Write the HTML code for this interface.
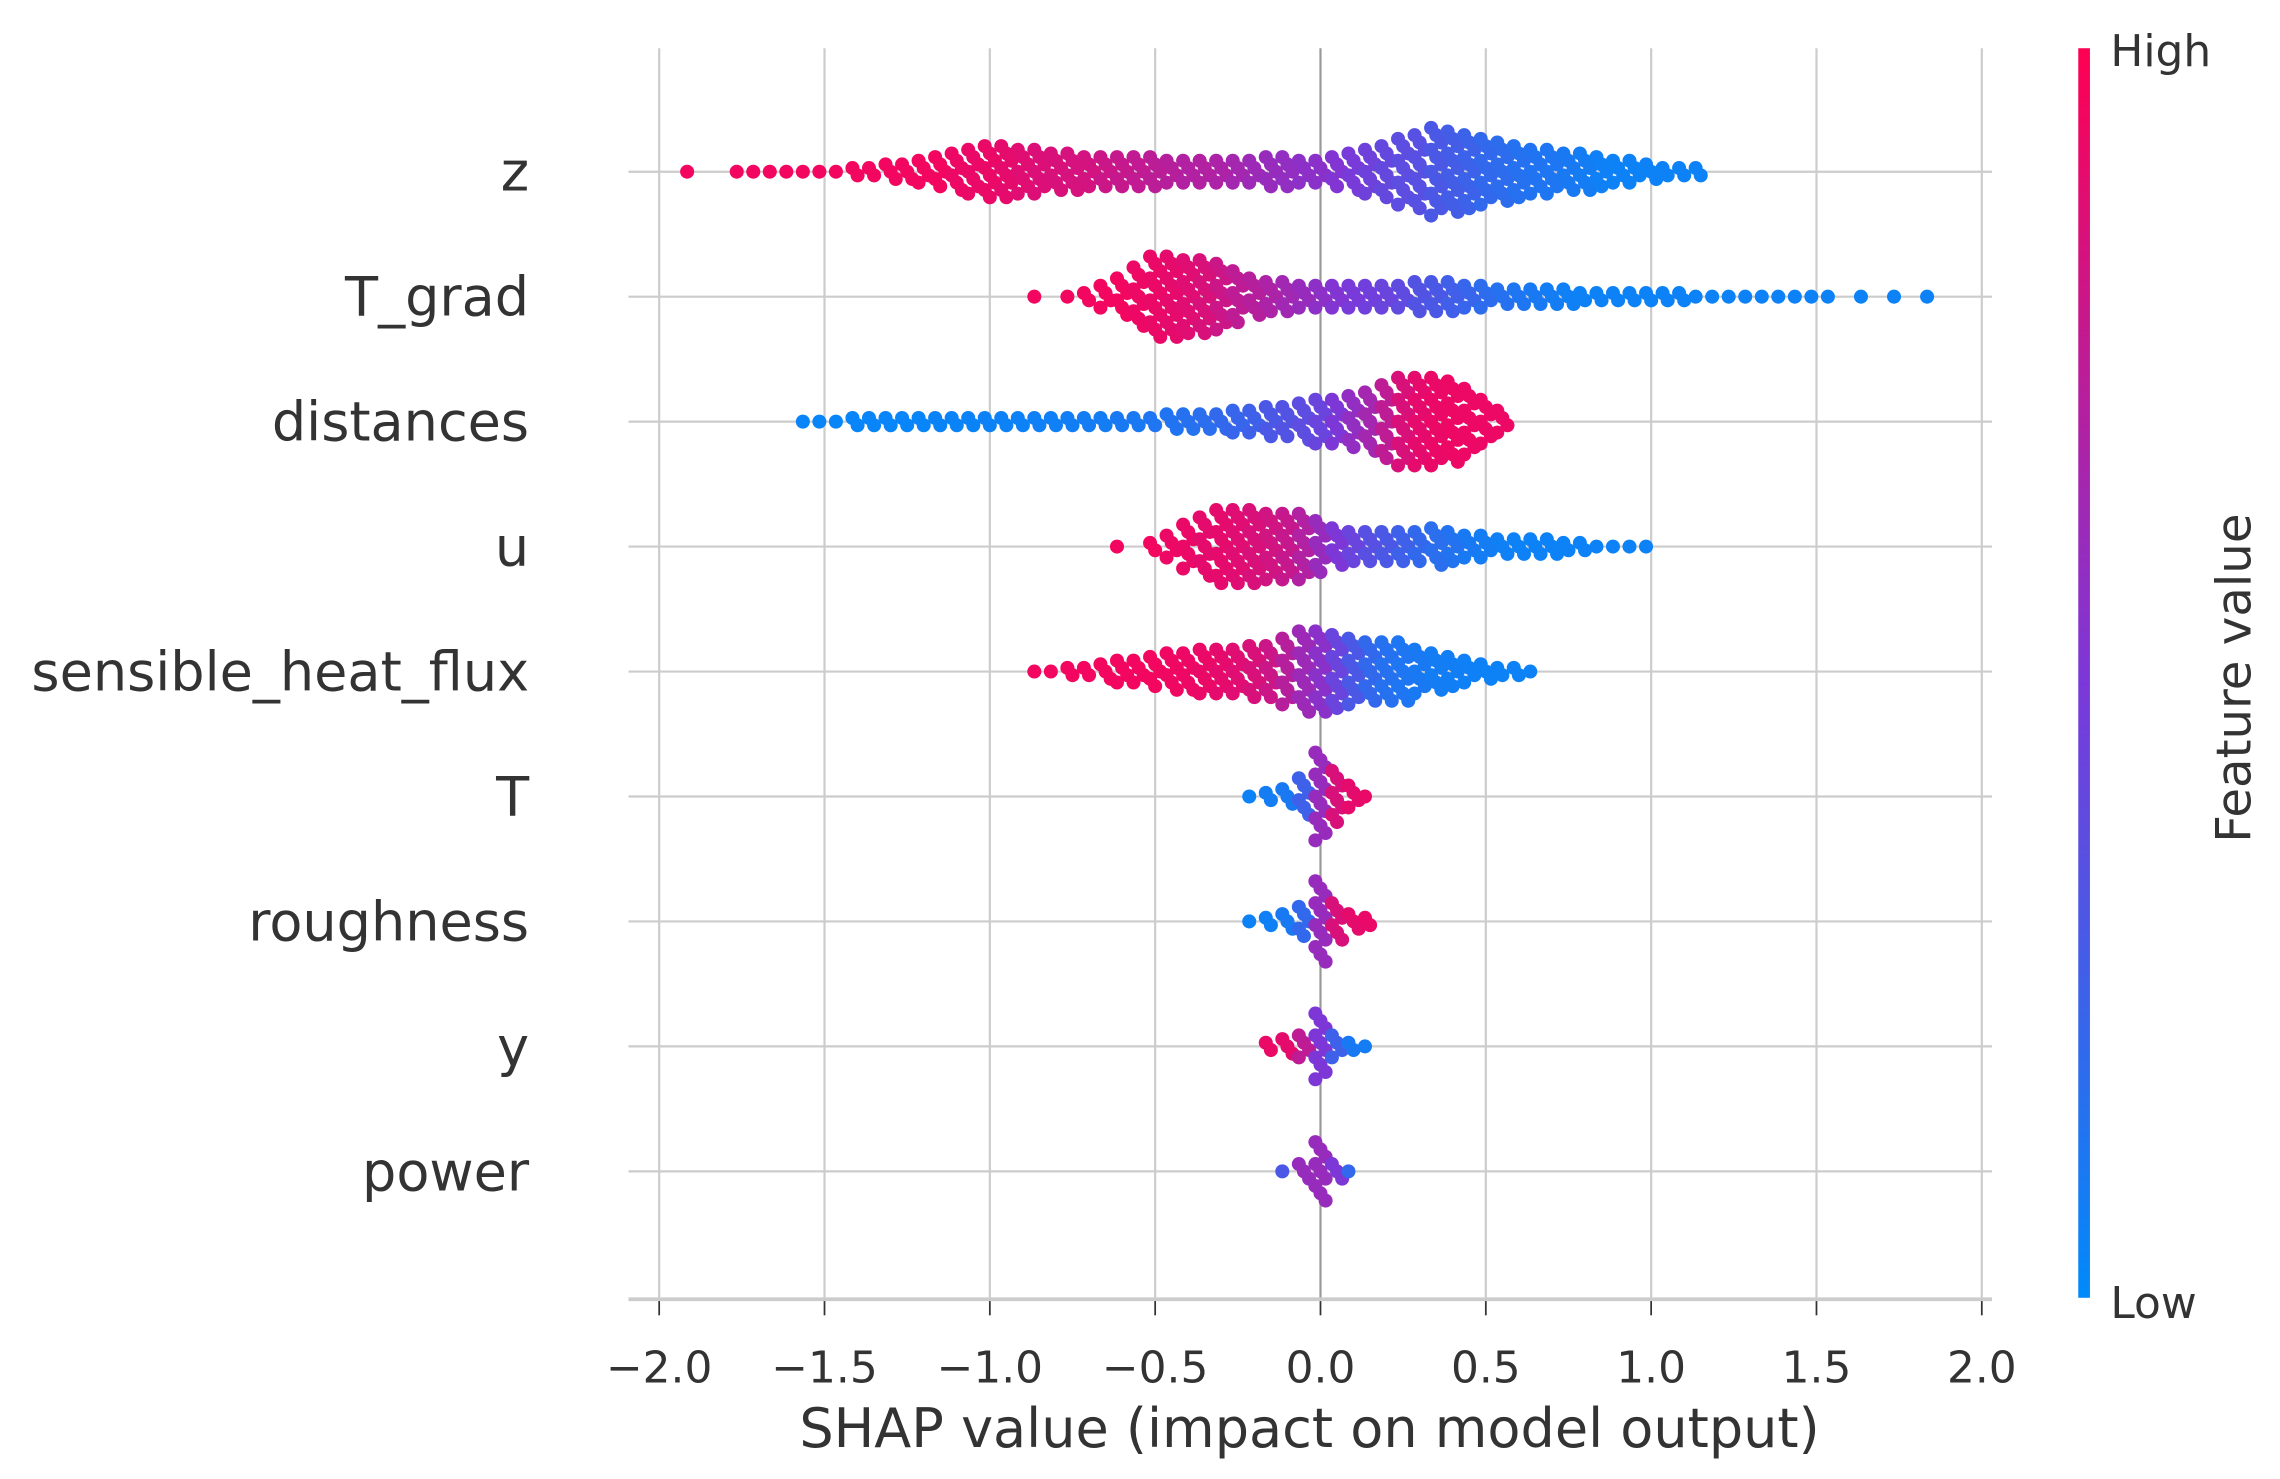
<!DOCTYPE html>
<html><head><meta charset="utf-8"><style>
html,body{margin:0;padding:0;background:#fff;}
svg{display:block;}
text{font-family:"DejaVu Sans","Liberation Sans",sans-serif;fill:#333;}
</style></head><body>
<svg id="chart" width="2280" height="1479" viewBox="0 0 1560 1012" xmlns="http://www.w3.org/2000/svg">
<defs><linearGradient id="cb" x1="0" y1="1" x2="0" y2="0">
<stop offset="0" stop-color="rgb(0,138,250)"/><stop offset="0.5" stop-color="rgb(125,55,215)"/><stop offset="1" stop-color="rgb(255,0,82)"/></linearGradient></defs>
<g id="grid"></g>
<g id="dots"></g>
<g id="axes"></g>
<rect x="1422" y="33" width="8" height="855" fill="url(#cb)"/>
<text x="1444" y="45" font-size="30">High</text>
<text x="1444" y="902" font-size="30">Low</text>
<text transform="translate(1540,464) rotate(-90)" text-anchor="middle" font-size="33">Feature value</text>
<text x="896" y="990" text-anchor="middle" font-size="37">SHAP value (impact on model output)</text>
</svg>
<script>
const features = ["z","T_grad","distances","u","sensible_heat_flux","T","roughness","y","power"];
const ticks = [-2.0,-1.5,-1.0,-0.5,0.0,0.5,1.0,1.5,2.0];
const tickLabels = ["\u22122.0","\u22121.5","\u22121.0","\u22120.5","0.0","0.5","1.0","1.5","2.0"];
const binWidth = 0.05;
const starts = [-1.90,-0.85,-1.55,-0.60,-0.85,-0.20,-0.20,-0.15,-0.10];
const countsZ = [1,0,0,1,1,1,1,1,1,1,2,2,3,3,4,5,6,7,8,8,7,7,6,6,5,5,5,5,5,4,4,4,4,4,4,5,5,4,4,5,6,7,8,10,11,13,12,11,10,9,8,7,7,6,6,5,4,4,3,2,2,2];
const colorsZ = [.95,.95,.95,.95,.95,.95,.95,.95,.95,.95,.95,.95,.95,.95,.95,.95,.93,.92,.92,.9,.88,.86,.85,.84,.83,.8,.78,.76,.74,.72,.7,.7,.68,.65,.62,.6,.58,.56,.55,.52,.48,.44,.4,.37,.35,.3,.27,.24,.2,.18,.15,.13,.12,.1,.08,.06,.05,.05,.05,.05,.05,.05];
const countsTgrad = [1,0,1,2,4,6,9,12,12,11,11,10,8,6,5,5,4,4,4,4,4,4,4,5,5,5,4,4,3,3,3,3,3,2,2,2,2,2,2,2,1,1,1,1,1,1,1,1,1,0,1,0,1,0,1];
const colorsTgrad = [.95,.95,.95,.95,.95,.95,.93,.92,.9,.88,.85,.8,.75,.72,.68,.64,.6,.56,.52,.48,.45,.42,.38,.33,.3,.26,.22,.18,.15,.12,.1,.08,.06,.05,.05,.05,.05,.05,.05,.05,.05,.05,.05,.05,.05,.05,.05,.05,.05,.05,.05,.05,.05,.05,.05];
const countsDist = [1,1,1,2,2,2,2,2,2,2,2,2,2,2,2,2,2,2,2,2,2,2,3,3,3,3,4,4,5,5,6,7,7,8,9,11,13,13,13,12,10,7,4];
const colorsDist = [.03,.03,.03,.03,.03,.03,.03,.03,.04,.04,.04,.05,.05,.05,.06,.06,.07,.08,.08,.1,.1,.12,.13,.15,.17,.2,.22,.25,.3,.33,.37,.42,.5,.58,.65,.75,.85,.9,.92,.93,.93,.93,.93];
const countsU = [1,0,2,4,7,9,11,11,11,10,10,10,8,6,5,5,5,5,5,6,5,4,4,3,3,3,3,2,2,1,1,1,1];
const colorsU = [.95,.95,.95,.93,.92,.9,.9,.88,.85,.82,.78,.7,.6,.5,.42,.35,.3,.25,.2,.17,.14,.1,.08,.06,.05,.05,.05,.05,.05,.05,.05,.05,.05];
const countsShf = [1,1,2,2,3,4,4,5,6,6,7,7,7,8,8,10,12,12,11,10,9,9,9,7,6,5,4,3,2,2,1];
const colorsShf = [.95,.95,.95,.95,.95,.95,.95,.95,.94,.93,.92,.9,.88,.85,.8,.72,.62,.55,.42,.3,.2,.15,.12,.1,.08,.07,.06,.05,.05,.05,.05];
const countsT = [1,2,3,6,13,8,4,1];
const colorsT = [.05,.08,.1,.25,.6,.85,.9,.92];
const countsRough = [1,2,3,5,12,6,3,2];
const colorsRough = [.05,.06,.1,.2,.6,.85,.9,.92];
const countsY = [2,3,4,10,4,2,1];
const colorsY = [.92,.9,.75,.5,.25,.1,.08];
const countsPower = [1,3,9,3,1];
const colorsPower = [.3,.6,.6,.5,.2];
const allCounts = [countsZ,countsTgrad,countsDist,countsU,countsShf,countsT,countsRough,countsY,countsPower];
const allColors = [colorsZ,colorsTgrad,colorsDist,colorsU,colorsShf,colorsT,colorsRough,colorsY,colorsPower];

const NS = "http://www.w3.org/2000/svg";
const X0 = 451, X1 = 1356;
function xScale(v){ return X0 + (v + 2) / 4 * (X1 - X0); }
function yScale(i){ return 117.5 + i * 85.5; }
function cmap(t){
  const a=[0,138,250], m=[125,55,215], b=[255,0,82];
  let c;
  if(t<0.5){ const k=t/0.5; c=a.map((v,j)=>Math.round(v+(m[j]-v)*k)); }
  else { const k=(t-0.5)/0.5; c=m.map((v,j)=>Math.round(v+(b[j]-v)*k)); }
  return "rgb("+c.join(",")+")";
}
function mk(tag, attrs, parent){
  const e=document.createElementNS(NS,tag);
  for(const k in attrs) e.setAttribute(k,attrs[k]);
  parent.appendChild(e); return e;
}
const grid=document.getElementById("grid"), axes=document.getElementById("axes"), dots=document.getElementById("dots");
ticks.forEach((t,i)=>{
  const x=xScale(t);
  const gl=mk("line",{x1:x,x2:x,y1:33,y2:889,stroke:t===0?"#999":"#ccc","stroke-width":1.5},grid);
  
  
  const tk=mk("line",{x1:x,x2:x,y1:890,y2:900,stroke:"#333","stroke-width":1.2},axes);
  
  
  const tl=mk("text",{x:x,y:946,"text-anchor":"middle","font-size":"30"},axes);
  tl.textContent=tickLabels[i];
  
  
});
const al=mk("line",{x1:430,x2:1363,y1:889,y2:889,stroke:"#ccc","stroke-width":2.5},axes);


features.forEach((f,i)=>{
  const y=yScale(i);
  const rl=mk("line",{x1:430,x2:1363,y1:y,y2:y,stroke:"#ccc","stroke-width":1.5},grid);
  
  
  const lb=mk("text",{x:362,y:y+13,"text-anchor":"end","font-size":"37"},axes);
  lb.textContent=f;
  
  
  const counts=allCounts[i], cols=allColors[i];
  counts.forEach((n,b)=>{
    const cx=xScale(starts[i]+b*binWidth);
    for(let k=0;k<n;k++){
      const off=(k-(n-1)/2)*5;
      const jx=((k%3)-1)*3.5;
      const c=mk("circle",{cx:cx+jx,cy:y+off,r:4.8,fill:cmap(cols[b])},dots);
      
      
    }
  });
});
</script>
</body></html>
